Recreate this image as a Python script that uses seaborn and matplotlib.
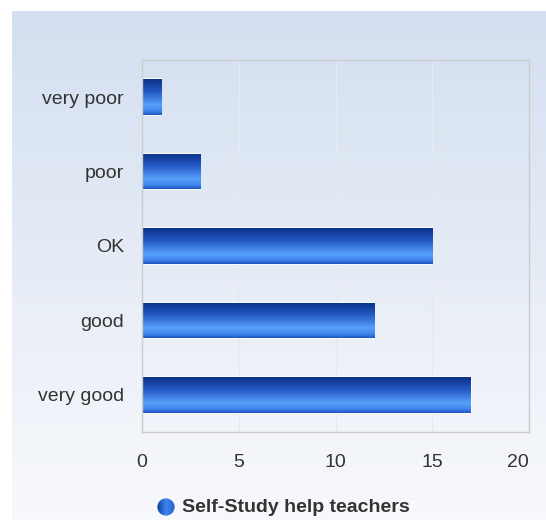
import numpy as np
import matplotlib
matplotlib.use("Agg")
import matplotlib.pyplot as plt
import seaborn as sns
from matplotlib.colors import LinearSegmentedColormap
from matplotlib.patches import Circle

categories = ["very poor", "poor", "OK", "good", "very good"]
counts = [1, 3, 15, 12, 17]
x_ticks = [0, 5, 10, 15, 20]
series_name = "Self-Study help teachers"

sns.set_theme(style="white")
plt.rcParams["font.family"] = ["Liberation Sans", "DejaVu Sans"]

W, H = 546, 520
fig = plt.figure(figsize=(W / 100, H / 100), dpi=100)
fig.patch.set_facecolor("white")

# background panel gradient
bg_ax = fig.add_axes([12 / W, 0, 1 - 12 / W, 1 - 11 / H], zorder=-10)
bg_cmap = LinearSegmentedColormap.from_list("bg", ["#d3dff0", "#e6ecf6", "#f8f9fc"])
bg_ax.imshow(np.linspace(0, 1, 256).reshape(-1, 1), cmap=bg_cmap, aspect="auto",
             extent=(0, 1, 0, 1), origin="upper")
bg_ax.set_axis_off()

ax = fig.add_axes([142 / W, (H - 432) / H, (529 - 142) / W, (432 - 60) / H])
ax.set_facecolor("none")

sns.barplot(x=counts, y=categories, order=categories, orient="h", ax=ax,
            color="#2f6ad8", width=0.48, edgecolor="white", linewidth=1.2)

bar_cmap = LinearSegmentedColormap.from_list(
    "bar", [(0, "#0a3288"), (0.35, "#2459c4"), (0.72, "#579ffa"), (0.88, "#4288ee"), (1, "#1f55c0")])
grad = np.linspace(0, 1, 128).reshape(-1, 1)
for p in ax.patches:
    x0, y0 = p.get_x(), p.get_y()
    w, h = p.get_width(), p.get_height()
    # y axis is inverted: y0 is the visual top
    im = ax.imshow(grad, cmap=bar_cmap, aspect="auto", origin="upper",
                   extent=(x0, x0 + w, y0 + h, y0), zorder=p.get_zorder() + 0.1)
    im.set_clip_path(p)

ax.set_xlim(0, 20)
ax.set_ylim(4.5, -0.5)
ax.set_xticks(x_ticks)
ax.set_xticklabels([str(t) for t in x_ticks])
ax.get_xticklabels()[-1].set_horizontalalignment("right")
ax.xaxis.grid(True, color="#e6e9ee", linewidth=1)
ax.yaxis.grid(False)
ax.set_axisbelow(True)
for s in ax.spines.values():
    s.set_color("#cccccc")
    s.set_linewidth(1)
ax.tick_params(axis="x", length=0, pad=16, labelsize=14, labelcolor="#333333")
ax.tick_params(axis="y", length=0, pad=13, labelsize=14, labelcolor="#333333")
ax.set_xlabel("")
ax.set_ylabel("")

# legend: gradient circle + bold label
leg_ax = fig.add_axes([157 / W, (H - 516) / H, 18 / W, 18 / H])
leg_ax.set_xlim(0, 1)
leg_ax.set_ylim(0, 1)
leg_ax.set_axis_off()
leg_cmap = LinearSegmentedColormap.from_list("leg", ["#0d3a9c", "#3f86ee", "#2a5fcc"])
lim = leg_ax.imshow(np.linspace(0, 1, 64).reshape(1, -1), cmap=leg_cmap, aspect="auto",
                    extent=(0, 1, 0, 1))
circ = Circle((0.5, 0.5), 0.48, transform=leg_ax.transData, facecolor="none", edgecolor="none")
leg_ax.add_patch(circ)
lim.set_clip_path(circ)
fig.text(182 / W, (H - 507) / H, series_name, fontsize=14, fontweight="bold",
         color="#333333", va="center", ha="left")

fig.savefig("out.png", dpi=100)
